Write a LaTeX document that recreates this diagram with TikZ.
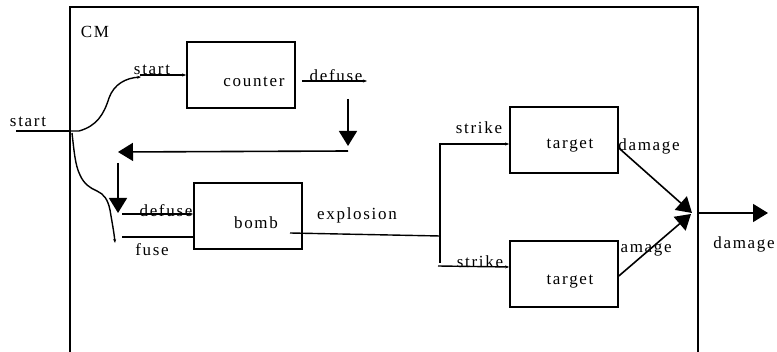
\documentclass[tikz,border=0pt]{standalone}
\usepackage{fontspec}
\setmainfont{Liberation Serif}[LetterSpace=10]
\usetikzlibrary{arrows.meta}

\begin{document}
\begin{tikzpicture}[x=1pt,y=-1pt,
  box/.style={draw,line width=1.6pt,fill=white,minimum width=108pt,minimum height=66pt},
  lbl/.style={font=\fontsize{17}{19}\selectfont},
  big/.style={line width=1.6pt,-{Triangle[length=15pt,width=18pt]}},
  thin/.style={line width=1.4pt,-{Stealth[length=4pt,width=3pt]}},
  plain/.style={line width=1.4pt}]
\tikzstyle{every node}+=[inner sep=0pt]
\useasboundingbox (0,0) rectangle (777,352);
% frame
\draw[line width=1.8pt] (70,352) -- (70,7) -- (698,7) -- (698,352);
\node[lbl] (cm) at (95,32) {CM};
% labels
\node[lbl] (start-out) at (28,122) {start};
\node[lbl] (start-in) at (152,70) {start};
\node[lbl] (defuse-out) at (336,76) {defuse};
\node[lbl] (defuse-in) at (166,211) {defuse};
\node[lbl] (fuse) at (152,250) {fuse};
\node[lbl] (explosion) at (357,215) {explosion};
\node[lbl] (strike-a) at (479,128) {strike};
\node[lbl] (strike-b) at (480,262) {strike};
\node[lbl] (damage-a) at (649,146) {damage};
\node[lbl] (damage-b) at (641,248) {damage};
\node[lbl] (damage-out) at (744,244) {damage};
% blocks
\node[box] (counter) at (241,75) {};
\node[lbl] (counter-txt) at (254,82) {counter};
\node[box] (bomb) at (248,216) {};
\node[lbl] (bomb-txt) at (256,223) {bomb};
\node[box] (target-a) at (564,140) {};
\node[lbl] (target-a-txt) at (570,146) {target};
\node[box] (target-b) at (564,274) {};
\node[lbl] (target-b-txt) at (570,282) {target};
% junctions and loose ends
\coordinate (split) at (70,131);
\coordinate (in) at (16,131);
\coordinate (up-end) at (141,77);
\coordinate (low-end) at (115,243);
\coordinate (fork) at (440,236);
\coordinate (fork-top) at (440,143);
\coordinate (fork-bot) at (440,263);
\coordinate (join) at (692,213);
\coordinate (out) at (768,213);
% wires
\draw[plain] (in) -- (split);
\draw[thin] (split) -- (79,131) .. controls (97,126) and (104,114) .. (109,98)
  .. controls (114,84) and (126,78) .. (up-end);
\draw[thin] (140,75) -- (counter.west |- 0,75);
\draw[thin] (counter.east |- 0,81) ++(6,0) -- (367,81);
\draw[big] (348,99) -- (348,146);
\draw[big] (348,151) -- (118,152);
\draw[big] (118,163) -- (118,213);
\draw[thin] (split) ++(2,2) .. controls (74,150) and (75,165) .. (80,175)
  .. controls (84,184) and (90,188) .. (97,191)
  .. controls (104,194) and (108,200) .. (110,210)
  .. controls (112,222) and (114,232) .. (low-end);
\draw[thin] (122,214) -- (bomb.west |- 0,214);
\draw[plain] (122,237) -- (bomb.west |- 0,237);
\draw[line width=1.4pt] (290,233) -- (fork);
\draw[plain] (fork-top) -- (fork-bot);
\draw[thin] (440,144) -- (target-a.west |- 0,144);
\draw[thin] (438,266) -- (target-b.west |- 0,267);
\draw[big] (target-a.east |- 0,148) -- (join);
\draw[big] (target-b.east |- 0,276) -- (691,214);
\draw[big] (698,213) -- (out);
\end{tikzpicture}
\end{document}
